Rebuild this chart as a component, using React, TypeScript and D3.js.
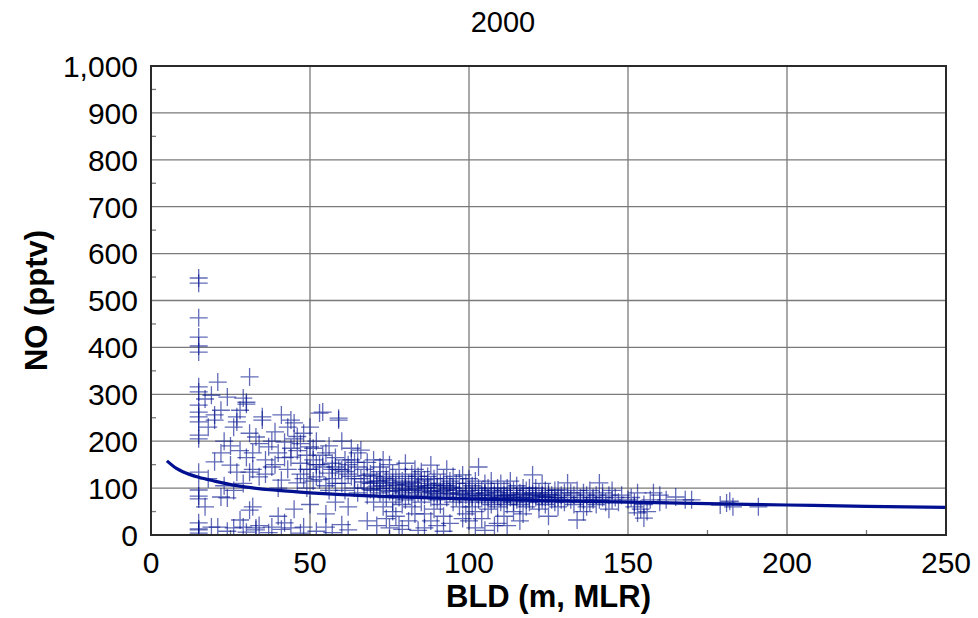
import React from "react";
import * as d3 from "d3";

const title = "2000";
const xLabel = "BLD (m, MLR)";
const yLabel = "NO (pptv)";
const xTicks = [0, 50, 100, 150, 200, 250];
const yTicks = [0, 100, 200, 300, 400, 500, 600, 700, 800, 900, 1000];

// Column of observations at the minimum BLD (15 m)
const colX15 = [548, 537, 463, 422, 403, 390, 316, 305, 277, 262, 241, 252, 213, 205, 134, 96, 83, 77, 26, 13, 11, 4];

const lowBld: [number, number][] = [
  [17,290],[18,230],[19,298],[19,17],[20,256],[20,156],[20,245],[21,326],[21,17],[22,175],[22,81],[22,266],[23,200],[24,79],[24,294],[25,149],[25,190],[26,15],[26,230],[27,134],[27,241],[27,252],[28,266],[28,32],[28,180],[29,17],[29,292],[30,279],[30,283],[30,165],[31,217],[31,134],[31,53],[31,337],[32,175],[32,60],[33,209],[33,15],[33,11],[34,124],[34,195],[35,245],[35,252],[18,120],[23,105],[26,95],[29,110],[32,140],[17,60],[24,8],[30,6],[34,20]
];

const midBld: [number, number][] = [
  [36,160],[37,188],[38,145],[38,17],[39,220],[40,175],[41,117],[41,256],[42,198],[42,26],[43,140],[44,245],[44,166],[44,15],[45,239],[45,205],[46,111],[46,180],[47,153],[47,130],[48,217],[48,17],[49,170],[49,100],[50,188],[50,140],[51,160],[51,115],[52,124],[52,200],[53,260],[53,150],[54,145],[54,262],[55,17],[55,175],[55,105],[56,132],[56,190],[57,153],[57,120],[58,70],[58,165],[59,245],[59,249],[59,140],[60,139],[60,110],[61,160],[61,95],[62,60],[62,11],[62,130],[63,160],[63,185],[64,120],[64,100],[65,145],[65,175],[65,90],[36,130],[39,150],[40,100],[43,230],[46,210],[50,230],[53,118],[56,95],[58,145],[60,200],[64,155],[37,5],[41,12],[47,4],[52,8],[57,5],[60,22],[45,55],[50,65],[40,40],[55,45],
  [38,200],[42,165],[44,185],[47,195],[49,140],[51,185],[54,170],[57,140],[61,135],[63,125],[52,150],[48,120],[58,110],[62,150]
];

const denseBld: [number, number][] = [
  [66,181],[66,120],[67,100],[67,140],[68,85],[68,155],[69,110],[69,130],[70,95],[70,70],[70,160],[71,115],[71,20],[72,135],[72,90],[72,145],[73,160],[73,105],[73,60],[74,125],[74,80],[74,100],[75,150],[75,110],[75,15],[76,95],[76,130],[76,70],[77,120],[77,85],[77,40],[78,105],[78,140],[78,20],[79,90],[79,115],[79,65],[80,153],[80,100],[80,125],[80,75],[81,110],[81,85],[81,30],[82,95],[82,130],[82,60],[83,120],[83,80],[83,140],[84,105],[84,90],[84,10],[85,115],[85,70],[85,135],[86,100],[86,85],[86,45],[87,125],[87,95],[87,110],[88,149],[88,80],[88,105],[89,90],[89,120],[89,55],[90,100],[90,75],[90,130],[90,20],[91,110],[91,85],[91,65],[92,95],[92,120],[92,40],[93,105],[93,80],[93,140],[94,90],[94,115],[94,25],[95,100],[95,70],[95,125],[68,30],[74,35],[79,12],[86,15],[92,8],[76,50],[83,45],[88,30],[72,115],[84,125],[70,125],[78,80],
  [67,113],[69,97],[71,104],[73,121],[75,93],[77,107],[79,98],[81,96],[83,103],[85,92],[87,101],[89,107],[91,93],[93,97],[95,88],[68,127],[72,99],[76,112],[80,108],[84,98],[88,93],[92,106],[70,111],[74,117],[78,94],[82,112],[86,118],[90,88],[94,102]
];

const upperBld: [number, number][] = [
  [96,95],[96,80],[96,110],[97,120],[97,60],[97,90],[98,128],[98,100],[98,75],[99,85],[99,110],[99,45],[100,95],[100,70],[100,120],[100,30],[101,105],[101,80],[101,60],[102,90],[102,115],[102,50],[103,145],[103,100],[103,75],[104,85],[104,95],[104,35],[105,110],[105,70],[105,90],[106,80],[106,100],[106,55],[107,95],[107,115],[107,65],[108,85],[108,75],[108,20],[109,100],[109,90],[109,60],[110,80],[110,110],[110,70],[111,95],[111,85],[111,40],[112,75],[112,100],[112,65],[113,90],[113,80],[113,115],[114,70],[114,95],[114,50],[115,85],[115,105],[115,75],[116,90],[116,65],[117,80],[117,100],[117,45],[118,75],[118,95],[118,60],[119,85],[119,70],[120,128],[120,90],[120,75],[121,80],[121,100],[122,70],[122,90],[122,55],[123,85],[123,75],[124,95],[124,65],[125,80],[125,90],[125,40],[126,75],[126,85],[127,70],[127,95],[128,96],[128,80],[128,60],[129,75],[129,85],[130,70],[130,90],[102,15],[109,25],[116,30],[105,10],[112,20],[98,35],[119,100],[123,110],
  [97,86],[99,93],[101,88],[103,84],[105,87],[107,79],[109,83],[111,78],[113,86],[115,81],[117,87],[119,78],[121,84],[123,82],[125,86],[127,79],[100,83],[104,78],[108,92],[112,84],[116,79],[120,87],[124,81]
];

const highBld: [number, number][] = [
  [131,111],[131,80],[132,75],[132,90],[133,85],[133,65],[134,32],[134,95],[135,80],[135,70],[136,90],[136,75],[137,85],[137,60],[138,70],[138,95],[139,80],[139,75],[140,85],[140,65],[141,111],[141,75],[142,80],[142,90],[143,70],[144,85],[145,75],[145,95],[146,80],[147,70],[148,85],[150,75],[151,80],[152,60],[152,70],[153,90],[153,47],[154,55],[155,36],[155,65],[156,50],[157,75],[158,90],[160,85],[160,70],[162,75],[165,81],[168,75],[170,75],[136,50],[144,55],
  [179,64],[181,68],[183,60],[191,60],[182,72]
];

// Fitted curve
const fitX = [5, 8, 10, 15, 20, 30, 40, 50, 60, 75, 100, 125, 150, 175, 200, 225, 250];
const fitY = [158, 142, 135, 123, 115, 102, 95, 90, 86, 82, 77, 73, 70, 67, 64, 61, 59];

const W = 978;
const H = 618;
const L = 151, R = 946, T = 66, B = 535;

export default function App() {
  const x = d3.scaleLinear().domain([0, 250]).range([L, R]);
  const y = d3.scaleLinear().domain([0, 1000]).range([B, T]);
  const fmt = d3.format(",");

  const points: [number, number][] = [
    ...colX15.map((v) => [15, v] as [number, number]),
    ...lowBld, ...midBld, ...denseBld, ...upperBld, ...highBld,
  ];

  const line = d3.line<number>()
    .x((_, i) => x(fitX[i]))
    .y((d) => y(d))
    .curve(d3.curveMonotoneX);

  const minorY = d3.range(50, 1000, 100);
  const minorX = d3.range(25, 250, 50);
  const s = 9;
  const font = "'Liberation Sans', Arial, sans-serif";

  return (
    <svg width={W} height={H} style={{ position: "absolute", left: 0, top: 0, background: "#fff" }}>
      <defs>
        <clipPath id="plot">
          <rect x={L} y={T} width={R - L} height={B - T} />
        </clipPath>
      </defs>
      <rect x={0} y={0} width={W} height={H} fill="#fff" />
      {yTicks.map((t) => (
        <line key={"gy" + t} x1={L} x2={R} y1={y(t)} y2={y(t)} stroke="#7a7a7a" strokeWidth={1.3} />
      ))}
      {xTicks.map((t) => (
        <line key={"gx" + t} x1={x(t)} x2={x(t)} y1={T} y2={B} stroke="#7a7a7a" strokeWidth={1.3} />
      ))}
      {minorY.map((t) => (
        <line key={"my" + t} x1={L} x2={L + 5} y1={y(t)} y2={y(t)} stroke="#7a7a7a" strokeWidth={1.3} />
      ))}
      {minorX.map((t) => (
        <line key={"mx" + t} x1={x(t)} x2={x(t)} y1={B} y2={B - 5} stroke="#7a7a7a" strokeWidth={1.3} />
      ))}
      <g clipPath="url(#plot)" stroke="#00108c" strokeOpacity={0.62} strokeWidth={1.3}>
        {points.map(([px, py], i) => {
          const cx = x(px), cy = y(py);
          return (
            <path key={i} d={`M${cx - s},${cy}H${cx + s}M${cx},${cy - s}V${cy + s}`} />
          );
        })}
      </g>
      <path d={line(fitY) || ""} fill="none" stroke="#001090" strokeWidth={3.2} clipPath="url(#plot)" />
      <rect x={L} y={T} width={R - L} height={B - T} fill="none" stroke="#2a2a2a" strokeWidth={2} />
      {yTicks.map((t) => (
        <text key={"ty" + t} x={L - 13} y={y(t)} dy="0.36em" textAnchor="end" fontFamily={font} fontSize={30} fill="#000">
          {fmt(t)}
        </text>
      ))}
      {xTicks.map((t) => (
        <text key={"tx" + t} x={x(t)} y={B + 38} textAnchor="middle" fontFamily={font} fontSize={30} fill="#000">
          {fmt(t)}
        </text>
      ))}
      <text x={503} y={32} textAnchor="middle" fontFamily={font} fontSize={29} fill="#000">{title}</text>
      <text x={(L + R) / 2} y={607} textAnchor="middle" fontFamily={font} fontSize={31} fontWeight="bold" fill="#000">{xLabel}</text>
      <text transform={`translate(47,${(T + B) / 2}) rotate(-90)`} textAnchor="middle" fontFamily={font} fontSize={31} fontWeight="bold" fill="#000">{yLabel}</text>
    </svg>
  );
}
